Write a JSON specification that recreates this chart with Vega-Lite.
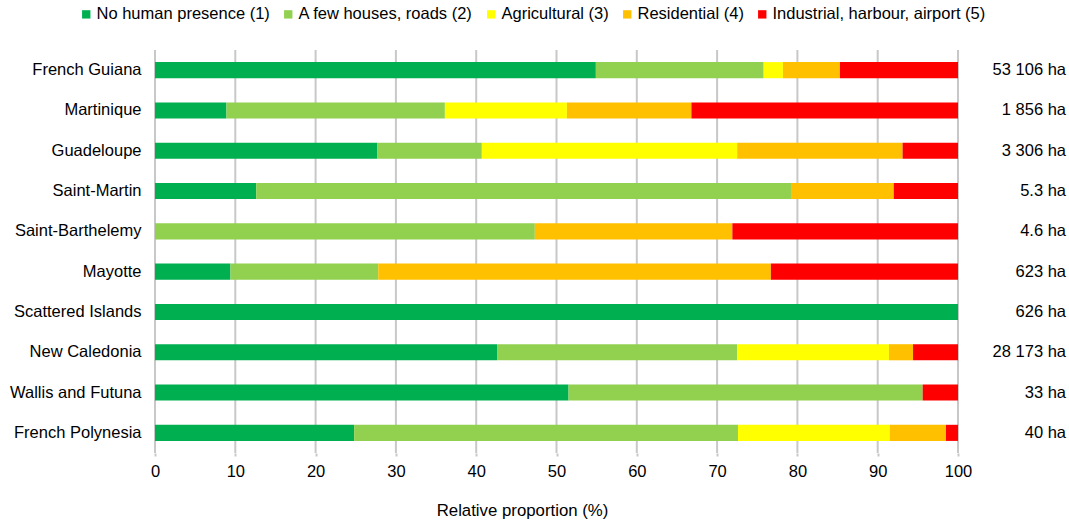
{
  "$schema": "https://vega.github.io/schema/vega-lite/v6.json",
  "autosize": "none",
  "width": 803,
  "height": 403,
  "padding": {"left": 155, "top": 50, "right": 111, "bottom": 68},
  "background": "white",
  "config": {
    "font": "Liberation Sans",
    "view": {"stroke": null},
    "axis": {"labelFont": "Liberation Sans", "titleFont": "Liberation Sans", "labelColor": "#000000", "titleColor": "#000000"}
  },
  "datasets": {
    "grid": [{"g": 0}, {"g": 10}, {"g": 20}, {"g": 30}, {"g": 40}, {"g": 50}, {"g": 60}, {"g": 70}, {"g": 80}, {"g": 90}, {"g": 100}],
    "shares": [
      {"territory": "French Guiana", "category": "No human presence (1)", "k": 1, "value": 54.9},
      {"territory": "French Guiana", "category": "A few houses, roads (2)", "k": 2, "value": 20.9},
      {"territory": "French Guiana", "category": "Agricultural (3)", "k": 3, "value": 2.4},
      {"territory": "French Guiana", "category": "Residential (4)", "k": 4, "value": 7.1},
      {"territory": "French Guiana", "category": "Industrial, harbour, airport (5)", "k": 5, "value": 14.7},
      {"territory": "Martinique", "category": "No human presence (1)", "k": 1, "value": 8.9},
      {"territory": "Martinique", "category": "A few houses, roads (2)", "k": 2, "value": 27.2},
      {"territory": "Martinique", "category": "Agricultural (3)", "k": 3, "value": 15.2},
      {"territory": "Martinique", "category": "Residential (4)", "k": 4, "value": 15.5},
      {"territory": "Martinique", "category": "Industrial, harbour, airport (5)", "k": 5, "value": 33.2},
      {"territory": "Guadeloupe", "category": "No human presence (1)", "k": 1, "value": 27.7},
      {"territory": "Guadeloupe", "category": "A few houses, roads (2)", "k": 2, "value": 13.0},
      {"territory": "Guadeloupe", "category": "Agricultural (3)", "k": 3, "value": 31.8},
      {"territory": "Guadeloupe", "category": "Residential (4)", "k": 4, "value": 20.6},
      {"territory": "Guadeloupe", "category": "Industrial, harbour, airport (5)", "k": 5, "value": 6.9},
      {"territory": "Saint-Martin", "category": "No human presence (1)", "k": 1, "value": 12.6},
      {"territory": "Saint-Martin", "category": "A few houses, roads (2)", "k": 2, "value": 66.6},
      {"territory": "Saint-Martin", "category": "Agricultural (3)", "k": 3, "value": 0},
      {"territory": "Saint-Martin", "category": "Residential (4)", "k": 4, "value": 12.8},
      {"territory": "Saint-Martin", "category": "Industrial, harbour, airport (5)", "k": 5, "value": 8.0},
      {"territory": "Saint-Barthelemy", "category": "No human presence (1)", "k": 1, "value": 0},
      {"territory": "Saint-Barthelemy", "category": "A few houses, roads (2)", "k": 2, "value": 47.3},
      {"territory": "Saint-Barthelemy", "category": "Agricultural (3)", "k": 3, "value": 0},
      {"territory": "Saint-Barthelemy", "category": "Residential (4)", "k": 4, "value": 24.6},
      {"territory": "Saint-Barthelemy", "category": "Industrial, harbour, airport (5)", "k": 5, "value": 28.1},
      {"territory": "Mayotte", "category": "No human presence (1)", "k": 1, "value": 9.4},
      {"territory": "Mayotte", "category": "A few houses, roads (2)", "k": 2, "value": 18.4},
      {"territory": "Mayotte", "category": "Agricultural (3)", "k": 3, "value": 0},
      {"territory": "Mayotte", "category": "Residential (4)", "k": 4, "value": 48.9},
      {"territory": "Mayotte", "category": "Industrial, harbour, airport (5)", "k": 5, "value": 23.3},
      {"territory": "Scattered Islands", "category": "No human presence (1)", "k": 1, "value": 100},
      {"territory": "Scattered Islands", "category": "A few houses, roads (2)", "k": 2, "value": 0},
      {"territory": "Scattered Islands", "category": "Agricultural (3)", "k": 3, "value": 0},
      {"territory": "Scattered Islands", "category": "Residential (4)", "k": 4, "value": 0},
      {"territory": "Scattered Islands", "category": "Industrial, harbour, airport (5)", "k": 5, "value": 0},
      {"territory": "New Caledonia", "category": "No human presence (1)", "k": 1, "value": 42.6},
      {"territory": "New Caledonia", "category": "A few houses, roads (2)", "k": 2, "value": 29.9},
      {"territory": "New Caledonia", "category": "Agricultural (3)", "k": 3, "value": 18.9},
      {"territory": "New Caledonia", "category": "Residential (4)", "k": 4, "value": 3.0},
      {"territory": "New Caledonia", "category": "Industrial, harbour, airport (5)", "k": 5, "value": 5.6},
      {"territory": "Wallis and Futuna", "category": "No human presence (1)", "k": 1, "value": 51.5},
      {"territory": "Wallis and Futuna", "category": "A few houses, roads (2)", "k": 2, "value": 44.1},
      {"territory": "Wallis and Futuna", "category": "Agricultural (3)", "k": 3, "value": 0},
      {"territory": "Wallis and Futuna", "category": "Residential (4)", "k": 4, "value": 0},
      {"territory": "Wallis and Futuna", "category": "Industrial, harbour, airport (5)", "k": 5, "value": 4.4},
      {"territory": "French Polynesia", "category": "No human presence (1)", "k": 1, "value": 24.8},
      {"territory": "French Polynesia", "category": "A few houses, roads (2)", "k": 2, "value": 47.8},
      {"territory": "French Polynesia", "category": "Agricultural (3)", "k": 3, "value": 18.9},
      {"territory": "French Polynesia", "category": "Residential (4)", "k": 4, "value": 7.0},
      {"territory": "French Polynesia", "category": "Industrial, harbour, airport (5)", "k": 5, "value": 1.5}
    ],
    "areas": [
      {"territory": "French Guiana", "area": "53 106 ha"},
      {"territory": "Martinique", "area": "1 856 ha"},
      {"territory": "Guadeloupe", "area": "3 306 ha"},
      {"territory": "Saint-Martin", "area": "5.3 ha"},
      {"territory": "Saint-Barthelemy", "area": "4.6 ha"},
      {"territory": "Mayotte", "area": "623 ha"},
      {"territory": "Scattered Islands", "area": "626 ha"},
      {"territory": "New Caledonia", "area": "28 173 ha"},
      {"territory": "Wallis and Futuna", "area": "33 ha"},
      {"territory": "French Polynesia", "area": "40 ha"}
    ]
  },
  "layer": [
    {
      "data": {"name": "grid"},
      "mark": {"type": "rule", "color": "#c8c8c8", "strokeWidth": 2},
      "encoding": {
        "x": {
          "field": "g",
          "type": "quantitative",
          "scale": {"domain": [0, 100], "nice": false},
          "axis": {
            "title": "Relative proportion (%)",
            "titleFontSize": 16.8,
            "titleFontWeight": "normal",
            "titlePadding": 23,
            "titleX": 367,
            "titleAlign": "center",
            "titleAnchor": null,
            "labelFontSize": 16.5,
            "labelPadding": 7,
            "labelOverlap": false,
            "labelFlush": false,
            "values": [0, 10, 20, 30, 40, 50, 60, 70, 80, 90, 100],
            "domain": false,
            "grid": false,
            "tickColor": "#c8c8c8",
            "tickSize": 3,
            "tickWidth": 2
          }
        }
      }
    },
    {
      "data": {"name": "shares"},
      "mark": {"type": "bar", "strokeWidth": 0},
      "encoding": {
        "y": {
          "field": "territory",
          "type": "nominal",
          "sort": ["French Guiana", "Martinique", "Guadeloupe", "Saint-Martin", "Saint-Barthelemy", "Mayotte", "Scattered Islands", "New Caledonia", "Wallis and Futuna", "French Polynesia"],
          "scale": {"paddingInner": 0.6, "paddingOuter": 0.3},
          "axis": {"title": null, "domain": false, "ticks": false, "grid": false, "labelFontSize": 16.5, "labelPadding": 14, "labelLimit": 300}
        },
        "x": {"field": "value", "type": "quantitative", "stack": "zero"},
        "color": {
          "field": "category",
          "type": "nominal",
          "sort": ["No human presence (1)", "A few houses, roads (2)", "Agricultural (3)", "Residential (4)", "Industrial, harbour, airport (5)"],
          "scale": {
            "domain": ["No human presence (1)", "A few houses, roads (2)", "Agricultural (3)", "Residential (4)", "Industrial, harbour, airport (5)"],
            "range": ["#00b050", "#92d050", "#ffff00", "#ffc000", "#ff0000"]
          },
          "legend": {
            "title": null,
            "orient": "none",
            "direction": "horizontal",
            "legendX": -77,
            "legendY": -44,
            "symbolType": "square",
            "symbolSize": 70,
            "symbolStrokeWidth": 0,
            "labelFontSize": 16.5,
            "labelLimit": 400,
            "labelColor": "#000000",
            "labelOffset": 2,
            "columnPadding": 10
          }
        },
        "order": {"field": "k", "type": "quantitative"}
      }
    },
    {
      "data": {"name": "areas"},
      "mark": {"type": "text", "align": "right", "dx": 108, "fontSize": 16.5, "color": "#000000", "baseline": "middle"},
      "encoding": {
        "y": {"field": "territory", "type": "nominal", "sort": ["French Guiana", "Martinique", "Guadeloupe", "Saint-Martin", "Saint-Barthelemy", "Mayotte", "Scattered Islands", "New Caledonia", "Wallis and Futuna", "French Polynesia"]},
        "x": {"datum": 100, "type": "quantitative"},
        "text": {"field": "area"}
      }
    }
  ]
}
